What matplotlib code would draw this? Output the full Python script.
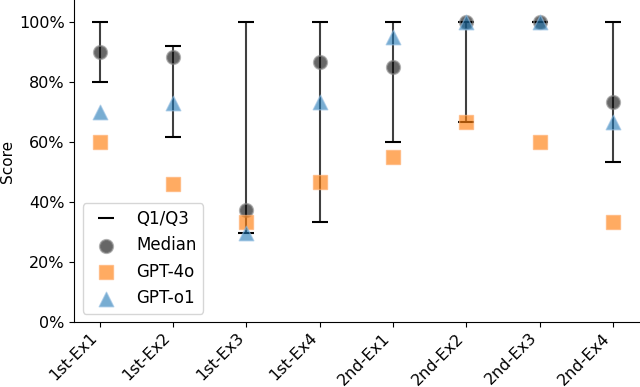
import numpy as np
import matplotlib
matplotlib.use('Agg')
import matplotlib.pyplot as plt
from matplotlib.ticker import PercentFormatter

# ── 数据 ────────────────────────────────────────────────
labels = ['1st-Ex1', '1st-Ex2', '1st-Ex3', '1st-Ex4',
          '2nd-Ex1', '2nd-Ex2', '2nd-Ex3', '2nd-Ex4']
q1     = [80.0, 61.8, 29.6, 33.3, 60.0, 66.7, 100.0, 53.3]
q3     = [100.0, 92.3, 100.0, 100.0, 100.0, 100.0, 100.0, 100.0]
median = [90.0, 88.4, 37.5, 86.7, 85.0, 100.0, 100.0, 73.3]
gpt4o  = [60.0, 46.2, 33.3, 46.7, 55.0, 66.7, 60.0, 33.3]
gpto1  = [70.0, 73.0, 29.6, 73.3, 95.0, 100.0, 100.0, 66.7]

x = np.arange(len(labels))

fig, ax = plt.subplots(figsize=(6.4, 3.87), dpi=100)

# Q1–Q3 竖线 + 端点
ax.vlines(x, q1, q3, color='black', lw=1.5, alpha=0.75, zorder=1)
ax.plot(x, q1, ls='none', marker='_', ms=12, mew=1.5, color='black', label='Q1/Q3', zorder=2)
ax.plot(x, q3, ls='none', marker='_', ms=12, mew=1.5, color='black', zorder=2)

ax.scatter(x, median, s=90, marker='o', color='black', alpha=0.6,
           edgecolors='gray', linewidths=1.5, label='Median', zorder=3)
ax.scatter(x, gpt4o, s=110, marker='s', color='#ff7f0e', alpha=0.65,
           edgecolors='#ffb070', linewidths=1, label='GPT-4o', zorder=3)
ax.scatter(x, gpto1, s=110, marker='^', color='#1f77b4', alpha=0.6,
           edgecolors='#8fbbe0', linewidths=1, label='GPT-o1', zorder=3)

ax.set_ylim(0, 107.5)
ax.set_xlim(-0.35, 7.37)
ax.yaxis.set_major_formatter(PercentFormatter(decimals=0))
ax.set_yticks([0, 20, 40, 60, 80, 100])
ax.set_xticks(x)
ax.set_xticklabels(labels, rotation=45, ha='right')
ax.tick_params(labelsize=11.5)
ax.tick_params(axis='x', pad=2.5)
ax.set_ylabel('Score', fontsize=11, labelpad=3)
ax.spines['top'].set_visible(False)
ax.spines['right'].set_visible(False)

ax.legend(loc='lower left', fontsize=12)

fig.subplots_adjust(left=0.116, right=1.0, top=1.0, bottom=0.168)
fig.savefig('out.png', dpi=100)
